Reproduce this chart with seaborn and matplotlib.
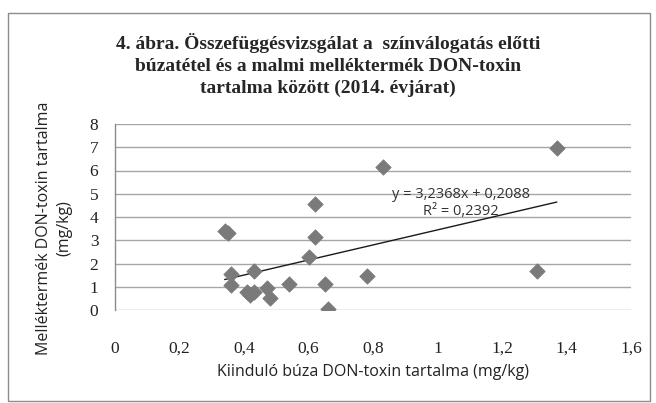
import numpy as np
import pandas as pd
import matplotlib
matplotlib.use("Agg")
import matplotlib.pyplot as plt
from matplotlib.patches import Rectangle
import seaborn as sns

# értékek
kiindulo = [0.34, 0.35, 0.36, 0.36, 0.43, 0.41, 0.42, 0.43, 0.47, 0.48,
            0.54, 0.60, 0.62, 0.62, 0.65, 0.66, 0.78, 0.83, 1.31, 1.37]
mellektermek = [3.40, 3.30, 1.55, 1.08, 1.69, 0.79, 0.65, 0.79, 0.93, 0.50,
                1.12, 2.27, 4.57, 3.16, 1.12, 0.05, 1.48, 6.15, 1.69, 6.97]
slope, intercept = 3.2368, 0.2088
x_ticks = [0, 0.2, 0.4, 0.6, 0.8, 1, 1.2, 1.4, 1.6]
x_ticklabels = ["0", "0,2", "0,4", "0,6", "0,8", "1", "1,2", "1,4", "1,6"]
y_ticks = [0, 1, 2, 3, 4, 5, 6, 7, 8]

df = pd.DataFrame({"x": kiindulo, "y": mellektermek})

sns.set_style("white")
fig = plt.figure(figsize=(6.56, 4.03), dpi=100)
ax = fig.add_axes([115 / 656, 1 - 310 / 403, 516 / 656, 186 / 403])

# keret a diagram körül
fig.patches.append(Rectangle((8 / 656, 2 / 403), 642 / 656, 388 / 403,
                             transform=fig.transFigure, fill=False,
                             edgecolor="#8c8c8c", linewidth=1.0))

for yv in y_ticks:
    ax.axhline(yv, color="#a6a6a6", linewidth=1.0, zorder=0)

sns.scatterplot(data=df, x="x", y="y", marker="D", s=62, color="#7a7a7a",
                edgecolor="#7a7a7a", linewidth=0.5, ax=ax, zorder=3)

xl = np.array([min(kiindulo), max(kiindulo)])
ax.plot(xl, slope * xl + intercept, color="#1a1a1a", linewidth=1.0, zorder=2)

ax.text(1.073, 4.6, "y = 3,2368x + 0,2088\nR² = 0,2392", ha="center", va="center",
        fontsize=10.5, family="Open Sans", color="#333333", linespacing=1.25)

ax.set_xlim(0, 1.6)
ax.set_ylim(0, 8)
ax.set_xticks(x_ticks)
ax.set_xticklabels(x_ticklabels)
ax.set_yticks(y_ticks)
for lab in ax.get_xticklabels() + ax.get_yticklabels():
    lab.set_family("Liberation Serif")
    lab.set_fontsize(12.5)
    lab.set_color("#222222")
ax.tick_params(axis="x", length=0, pad=22)
ax.tick_params(axis="y", length=0, pad=12)

for s in ["top", "right", "bottom"]:
    ax.spines[s].set_visible(False)
ax.spines["left"].set_color("#8c8c8c")
ax.spines["left"].set_linewidth(1.0)

ax.set_xlabel("Kiinduló búza DON-toxin tartalma (mg/kg)", family="Open Sans",
              fontsize=11.5, labelpad=5, color="#222222")
ax.set_ylabel("Melléktermék DON-toxin tartalma\n(mg/kg)", family="Open Sans",
              fontsize=11.5, linespacing=1.35, color="#222222")
ax.yaxis.set_label_coords(-0.083, 0.44)

fig.text(0.5, 1 - 65 / 403,
         "4. ábra. Összefüggésvizsgálat a  színválogatás előtti\n"
         "búzatétel és a malmi melléktermék DON-toxin\n"
         "tartalma között (2014. évjárat)",
         ha="center", va="center", fontsize=14, fontweight="bold",
         family="Liberation Serif", linespacing=1.35)

fig.savefig("out.png", dpi=100)
